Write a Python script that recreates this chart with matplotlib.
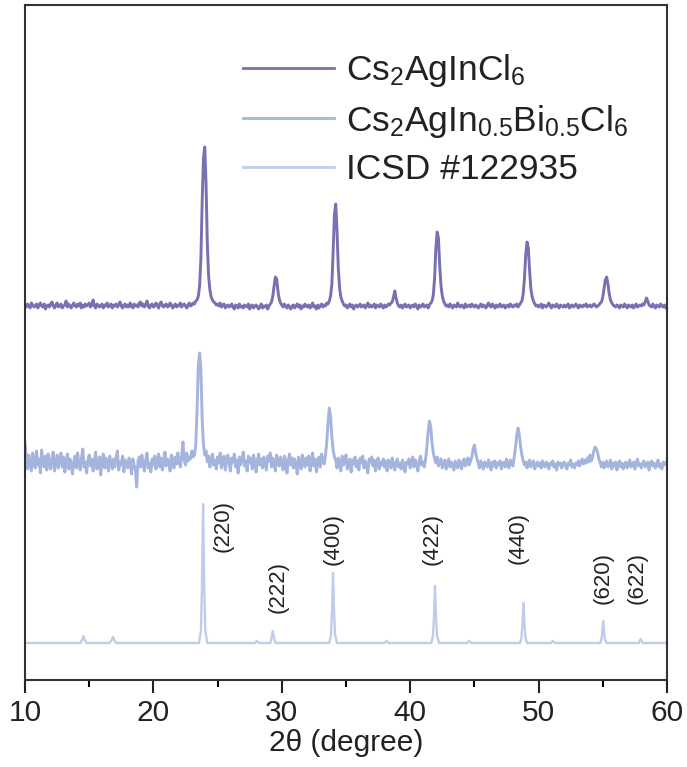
import numpy as np
import matplotlib
matplotlib.use("Agg")
import matplotlib.pyplot as plt
from matplotlib.ticker import MultipleLocator

plt.rcParams['font.family'] = ['Liberation Sans', 'DejaVu Sans']
plt.rcParams['mathtext.default'] = 'regular'

# 2theta grid for the two measured patterns (0.1 degree step)
two_theta = np.round(np.arange(10.0, 60.0001, 0.1), 1)

# Cs2AgInCl6, background-subtracted counts (a.u.)
cs2aginCl6 = [
    1, -1, 2, 0, -2, 3, 1, -1, 0, 2,
    -2, 1, 3, 0, -1, 2, -3, 0, 1, -1,
    2, 4, 0, -2, 1, 3, -1, 0, 2, -2,
    0, 1, 5, -1, 2, 0, -2, 1, 3, 0,
    -1, 2, 0, 3, -2, 1, -1, 2, 0, 1,
    3, -1, 1, 6, 0, -2, 2, 1, -1, 0,
    2, -2, 1, 0, 3, -1, 0, 2, -2, 1,
    0, 2, -1, 1, 4, 0, -2, 1, 2, -1,
    1, -1, 3, 0, -2, 2, 0, 1, -1, 3,
    4, 0, 2, -1, 1, 5, 0, -2, 1, 2,
    -1, 0, 3, 1, -2, 2, 4, 0, -1, 1,
    2, -1, 0, 3, 1, -2, 0, 2, -1, 1,
    0, 3, -1, 1, 2, 0, -2, 1, 3, 0,
    1, 3, 2, 5, 6, 10, 20, 48, 105, 148,
    159, 122, 62, 30, 16, 9, 6, 4, 3, 1,
    2, 0, 3, -1, 1, 2, -2, 0, 1, -1,
    0, 2, -1, -3, 1, 0, -2, 2, -1, 0,
    -2, 1, 0, -1, 2, -3, 0, 1, -2, 0,
    1, -1, -3, 0, 2, -2, 0, -1, 1, -3,
    0, 2, 4, 10, 20, 29, 27, 15, 7, 3,
    1, -1, 2, 0, -2, 1, -1, -3, 0, 1,
    -2, 0, 2, -1, 1, -3, 0, -1, 2, 0,
    -1, 1, -2, 0, 3, -1, 0, -3, 1, -2,
    0, 2, -1, 1, 0, 3, 2, 5, 10, 22,
    55, 92, 102, 75, 38, 18, 9, 5, 2, 0,
    1, -2, 0, 2, -1, 1, -3, 0, 1, -1,
    0, 2, -1, 0, 1, -2, 0, 3, -1, 1,
    -1, 0, 2, -2, 1, 0, -1, 2, 0, -2,
    1, -1, 0, 2, 1, 3, 4, 9, 15, 8,
    3, 0, -1, 1, -2, 0, 2, -1, 0, 1,
    -2, 0, 1, -1, 2, 0, -3, 1, -1, 0,
    2, -1, 0, 1, -2, 1, 3, 5, 11, 28,
    58, 74, 68, 40, 20, 10, 5, 2, 0, 1,
    -1, 2, 0, -2, 1, 0, -1, 3, 0, -1,
    1, 0, -2, 2, -1, 0, 1, -1, 2, 0,
    -1, 1, 0, -2, 0, 2, -1, 1, 0, -2,
    1, 3, 0, -1, 2, 0, -2, 1, -1, 0,
    2, -1, 0, 1, -2, 0, 1, -1, 2, 0,
    -1, 1, 0, 2, -1, 1, 3, 5, 12, 28,
    52, 64, 58, 35, 17, 9, 5, 2, 0, 1,
    -1, 0, 2, -2, 1, 0, -1, 1, 3, 0,
    -2, 1, 0, -1, 2, 0, -2, 1, 0, -1,
    1, -1, 0, 2, -2, 0, 1, -1, 0, 2,
    0, -2, 1, 0, -1, 1, 0, 2, -1, 0,
    1, -1, 0, 2, 1, -1, 0, 1, 3, 4,
    9, 18, 26, 29, 22, 12, 6, 3, 1, 0,
    -1, 1, 0, -2, 1, 0, -1, 2, 0, -2,
    1, 0, -1, 1, -2, 0, 2, -1, 0, 1,
    0, 2, 1, 4, 8, 5, 1, 0, -1, 2,
    0, -2, 1, 0, -1, 2, 0, -1, 1, -2,
    0,
]

# Cs2AgIn0.5Bi0.5Cl6, background-subtracted counts (a.u.)
cs2agin05bi05cl6 = [
    22, 8, -4, 10, 2, -6, 12, 4, -3, 14,
    0, 6, -8, 15, 3, -2, 9, -5, 11, 1,
    -4, 7, 13, -6, 2, 10, -3, 5, 12, -2,
    8, -7, 3, 11, -4, 6, 0, -9, 4, 9,
    -3, 12, 1, -5, 7, 16, -2, 3, -8, 5,
    10, -1, 6, -6, 2, 13, -4, 0, 8, -10,
    4, 11, -3, 7, 0, -6, 9, 2, -4, 6,
    -2, 8, 14, -5, 3, 0, 9, -7, 5, 1,
    -3, 7, 2, -9, 6, 0, -5, -22, 4, 8,
    -2, 10, 1, -6, 5, 12, -3, 2, -7, 6,
    0, 9, -4, 4, 11, -2, 7, -5, 3, 13,
    -1, 6, 2, -6, 10, 4, -3, 8, 1, 12,
    3, -2, 9, 23, 5, 0, 12, 4, 8, 6,
    14, 8, 10, 20, 55, 100, 112, 95, 45, 20,
    10, 14, 3, 9, -2, 6, 11, 0, 5, -4,
    8, 2, 12, -3, 6, 9, -5, 4, 10, 1,
    -6, 7, 3, 11, -2, 5, -8, 8, 0, 6,
    13, -1, 4, -6, 9, 2, 7, -4, 10, 3,
    -7, 5, 11, 0, 6, -3, 8, 2, -5, 9,
    4, 12, -2, 7, 1, -6, 10, 3, -1, 8,
    2, -5, 9, 5, -8, 4, 11, 0, 7, -3,
    6, 1, -9, 8, 3, -4, 10, 5, -2, 7,
    0, 9, -6, 4, 12, -1, 6, -7, 3, 8,
    -2, 11, 4, 1, 10, 22, 42, 57, 48, 28,
    15, 8, 5, -3, 7, 2, -6, 9, 0, 4,
    10, -4, 3, 6, -7, 5, 1, 8, -2, 4,
    -5, 7, 2, 9, -3, 4, 0, -8, 6, 3,
    8, -1, 5, -6, 2, 7, -4, 3, 0, 6,
    -2, 4, -6, 5, 1, -3, 7, 0, -5, 3,
    6, -2, 2, -4, 5, 0, -7, 3, 1, 6,
    -3, 4, 8, -2, 5, 1, -6, 4, 9, 0,
    3, -2, 6, 18, 34, 44, 38, 22, 12, 6,
    2, 8, -1, 4, 6, -3, 2, 5, -4, 1,
    6, -2, 3, 0, -5, 4, 1, -3, 5, 2,
    -4, 3, 6, -1, 2, 7, 0, 4, 8, 16,
    20, 12, 6, 2, -3, 4, 0, -4, 3, 1,
    -2, 5, 0, -5, 3, -1, 4, -3, 2, 0,
    4, -4, 1, 3, -2, 6, 0, -3, 5, 2,
    -1, 8, 18, 30, 37, 30, 18, 10, 4, 0,
    3, -3, 2, 5, -2, 1, 4, -4, 0, 3,
    -1, 2, -3, 4, 0, -2, 3, 1, -4, 2,
    0, 4, -2, 1, -5, 3, 0, 2, -3, 1,
    3, -1, -4, 2, 0, 5, -2, 1, -3, 2,
    0, 4, -1, 3, 6, 1, 5, 2, 7, 3,
    10, 4, 8, 14, 18, 16, 12, 6, 2, -2,
    3, -3, 1, 4, -2, 0, 5, -4, 2, -1,
    3, -5, 1, 4, -2, 2, -4, 0, 3, -3,
    1, 5, -2, 0, 3, -4, 2, 6, -1, 1,
    -3, 2, 4, -2, 0, 3, -5, 1, 4, -1,
    2, -3, 0, 5, -2, 1, -4, 3, 0, 2,
    4,
]

# ICSD #122935 reference pattern
icsd_two_theta = [
    10.0, 14.3, 14.45, 14.55, 14.65, 14.8, 16.6, 16.75, 16.85, 16.95, 17.1,
    23.55, 23.7, 23.78, 23.87, 23.96, 24.04, 24.2,
    27.9, 28.05, 28.2, 29.1, 29.2, 29.3, 29.4, 29.5,
    33.7, 33.83, 33.91, 33.99, 34.07, 34.15, 34.3,
    38.0, 38.15, 38.3,
    41.65, 41.77, 41.85, 41.93, 42.01, 42.09, 42.25,
    44.45, 44.6, 44.75,
    48.55, 48.66, 48.74, 48.82, 48.9, 48.98, 49.1,
    50.95, 51.1, 51.25,
    54.8, 54.9, 54.96, 55.03, 55.1, 55.16, 55.3,
    57.8, 57.95, 58.1, 60.0,
]
icsd_intensity = [
    0, 0, 3, 7, 3, 0, 0, 3, 6, 3, 0,
    0, 12, 55, 139, 55, 12, 0,
    0, 2, 0, 0, 5, 12, 5, 0,
    0, 8, 32, 70, 32, 8, 0,
    0, 2, 0,
    0, 7, 26, 57, 26, 7, 0,
    0, 2, 0,
    0, 5, 18, 40, 18, 5, 0,
    0, 2, 0,
    0, 4, 11, 22, 11, 4, 0,
    0, 4, 0, 0,
]

# Miller indices and where their labels sit
hkl_labels = ['(220)', '(222)', '(400)', '(422)', '(440)', '(620)', '(622)']
hkl_x = [25.4, 29.7, 34.0, 41.7, 48.4, 55.0, 57.7]
hkl_y = [154, 93, 141, 141, 142, 102, 102]

offsets = [374, 215, 37]
colors = ['#7671b0', '#a5b4dd', '#c0cce9']
labels = [r'Cs$_2$AgInCl$_6$', r'Cs$_2$AgIn$_{0.5}$Bi$_{0.5}$Cl$_6$', 'ICSD #122935']

fig = plt.figure(figsize=(6.87, 7.67), dpi=100)
ax = fig.add_axes([25 / 687, 87 / 767, 642 / 687, 675 / 767])

ax.plot(two_theta, np.array(cs2aginCl6) + offsets[0], color=colors[0], lw=2.1, label=labels[0])
ax.plot(two_theta, np.array(cs2agin05bi05cl6) + offsets[1], color=colors[1], lw=2.1, label=labels[1])
ax.plot(icsd_two_theta, np.array(icsd_intensity) + offsets[2], color=colors[2], lw=1.7, label=labels[2])

for txt, x, y in zip(hkl_labels, hkl_x, hkl_y):
    ax.text(x, y, txt, rotation=90, ha='center', va='center', fontsize=16, color='#222222')

ax.set_xlim(10, 60)
ax.set_ylim(0, 675)
ax.set_yticks([])
ax.xaxis.set_major_locator(MultipleLocator(10))
ax.xaxis.set_minor_locator(MultipleLocator(5))
ax.tick_params(axis='x', which='major', direction='out', length=9, width=1.5, pad=5,
               labelsize=21.5, colors='#222222')
ax.tick_params(axis='x', which='minor', direction='out', length=5, width=1.5)
for sp in ax.spines.values():
    sp.set_linewidth(1.5)
    sp.set_color('#333333')
ax.set_xlabel('2θ (degree)', fontsize=21.5, labelpad=1, color='#222222')

leg = ax.legend(loc='upper left', bbox_to_anchor=(0.34, 0.93), frameon=False,
                fontsize=25.5, handlelength=2.55, handletextpad=0.35,
                labelspacing=0.38, borderpad=0, borderaxespad=0)
for line in leg.get_lines():
    line.set_linewidth(2.0)
for t in leg.get_texts():
    t.set_color('#222222')

fig.savefig('out.png', dpi=100)
